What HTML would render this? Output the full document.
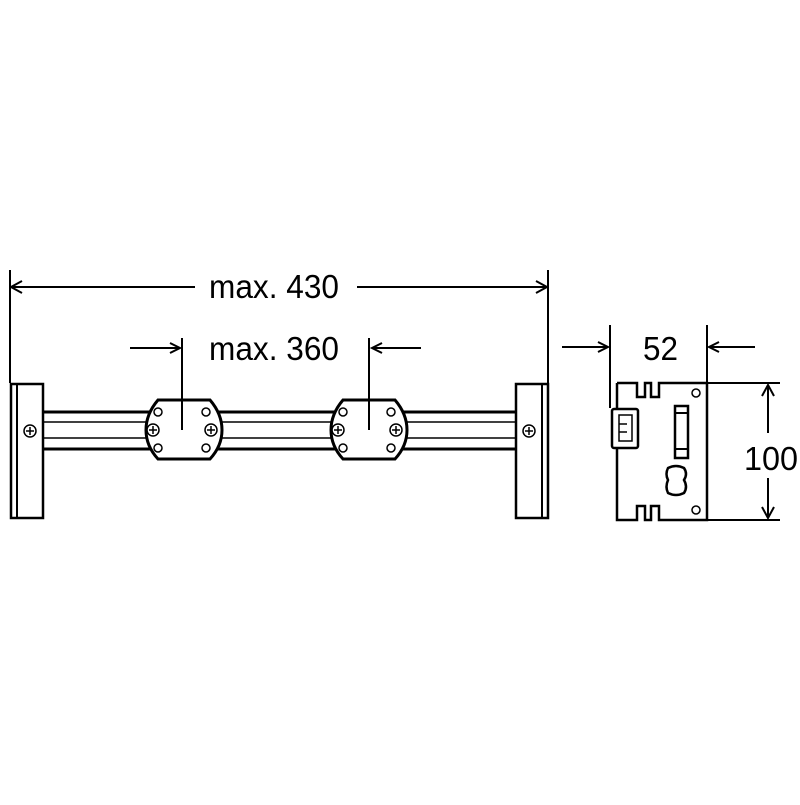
<!DOCTYPE html>
<html><head><style>html,body{margin:0;padding:0;background:#fff}</style></head><body>
<svg width="800" height="800" viewBox="0 0 800 800" xmlns="http://www.w3.org/2000/svg">
<g fill="none" stroke="#000" stroke-width="2">
<line x1="10" y1="270" x2="10" y2="383"/>
<line x1="548" y1="270" x2="548" y2="383"/>
<line x1="11" y1="287" x2="195" y2="287"/>
<line x1="357" y1="287" x2="547" y2="287"/>
<path d="M22 281 L11 287 L22 293"/>
<path d="M536 281 L547 287 L536 293"/>
<line x1="130" y1="348" x2="180" y2="348"/>
<path d="M170 343 L180 348 L170 353"/>
<line x1="182" y1="338" x2="182" y2="430"/>
<line x1="372" y1="348" x2="421" y2="348"/>
<path d="M382 343 L372 348 L382 353"/>
<line x1="369" y1="338" x2="369" y2="430"/>
<line x1="43" y1="412" x2="517" y2="412" stroke-width="3"/>
<line x1="43" y1="422" x2="517" y2="422" stroke-width="1.5"/>
<line x1="43" y1="438" x2="517" y2="438" stroke-width="1.5"/>
<line x1="43" y1="449" x2="517" y2="449" stroke-width="3"/>
<rect x="11" y="384" width="32" height="134" fill="#fff" stroke-width="2.5"/>
<line x1="17" y1="384" x2="17" y2="518"/>
<rect x="516" y="384" width="32" height="134" fill="#fff" stroke-width="2.5"/>
<line x1="542" y1="384" x2="542" y2="518"/>
<path d="M158 400 L210 400 Q222 414 222 430 Q222 446 210 459 L158 459 Q146 446 146 430 Q146 414 158 400 Z" fill="#fff" stroke-width="3"/>
<path d="M343 400 L395 400 Q407 414 407 430 Q407 446 395 459 L343 459 Q331 446 331 430 Q331 414 343 400 Z" fill="#fff" stroke-width="3"/>
<line x1="182" y1="400" x2="182" y2="430"/>
<line x1="369" y1="400" x2="369" y2="430"/>
<g stroke-width="1.5">
<circle cx="158" cy="412" r="4"/><circle cx="206" cy="412" r="4"/>
<circle cx="158" cy="448" r="4"/><circle cx="206" cy="448" r="4"/>
<circle cx="343" cy="412" r="4"/><circle cx="391" cy="412" r="4"/>
<circle cx="343" cy="448" r="4"/><circle cx="391" cy="448" r="4"/>
</g>
<g stroke-width="1.5">
<circle cx="30" cy="431" r="6"/><path d="M26 431h8M30 427v8"/>
<circle cx="529" cy="431" r="6"/><path d="M525 431h8M529 427v8"/>
<circle cx="153" cy="430" r="6"/><path d="M149 430h8M153 426v8"/>
<circle cx="211" cy="430" r="6"/><path d="M207 430h8M211 426v8"/>
<circle cx="338" cy="430" r="6"/><path d="M334 430h8M338 426v8"/>
<circle cx="396" cy="430" r="6"/><path d="M392 430h8M396 426v8"/>
</g>
<line x1="610" y1="325" x2="610" y2="408"/>
<line x1="707" y1="325" x2="707" y2="383"/>
<line x1="562" y1="347" x2="608" y2="347"/>
<path d="M598 342 L608 347 L598 352"/>
<line x1="709" y1="347" x2="755" y2="347"/>
<path d="M719 342 L709 347 L719 352"/>
<path d="M617 383 L637 383 L637 397 L645 397 L645 383 L651 383 L651 397 L659 397 L659 383 L707 383 L707 520 L659 520 L659 506 L651 506 L651 520 L645 520 L645 506 L637 506 L637 520 L617 520 L617 448" stroke-width="2.5"/>
<line x1="617" y1="383" x2="617" y2="409" stroke-width="2.5"/>
<rect x="612" y="409" width="26" height="39" rx="2" fill="#fff" stroke-width="2.5"/>
<rect x="619" y="415" width="13" height="26" stroke-width="1.5"/>
<path d="M619 424h8M619 432h8" stroke-width="1.5"/>
<rect x="675" y="406" width="13" height="52" stroke-width="2.5"/>
<line x1="675" y1="413" x2="688" y2="413"/>
<line x1="675" y1="449" x2="688" y2="449"/>
<path d="M668 468 Q665 474 668 480 Q665 487 668 493 Q676 497 684 493 Q688 487 684 480 Q688 474 684 468 Q676 464 668 468 Z" stroke-width="2.5"/>
<circle cx="696" cy="393" r="4" stroke-width="1.5"/>
<circle cx="696" cy="510" r="4" stroke-width="1.5"/>
<line x1="707" y1="383" x2="780" y2="383"/>
<line x1="707" y1="520" x2="780" y2="520"/>
<line x1="768" y1="385" x2="768" y2="433"/>
<line x1="768" y1="478" x2="768" y2="518"/>
<path d="M762 396 L768 385 L774 396"/>
<path d="M762 507 L768 518 L774 507"/>
</g>
<g font-family="Liberation Sans, sans-serif" font-size="33" fill="#000">
<text x="209" y="298" textLength="130" lengthAdjust="spacingAndGlyphs">max. 430</text>
<text x="209" y="360" textLength="130" lengthAdjust="spacingAndGlyphs">max. 360</text>
<text x="643" y="360" textLength="35" lengthAdjust="spacingAndGlyphs">52</text>
<text x="744" y="470" textLength="54" lengthAdjust="spacingAndGlyphs">100</text>
</g>
</svg>
</body></html>
